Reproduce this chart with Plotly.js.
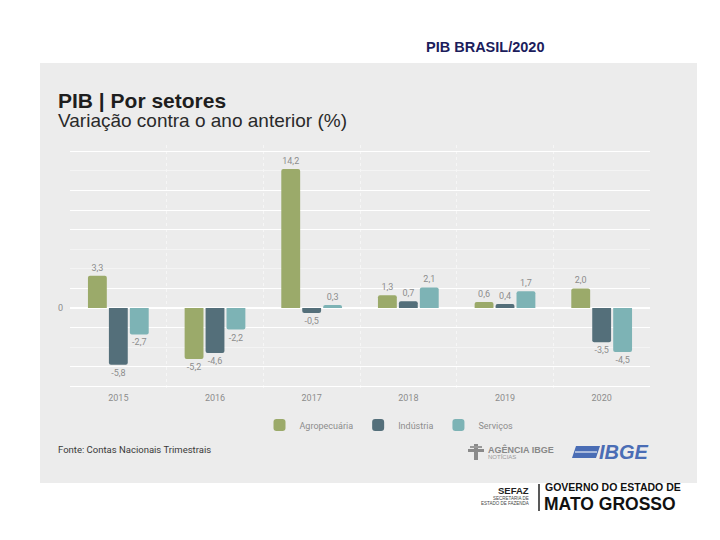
<!DOCTYPE html>
<html>
<head>
<meta charset="utf-8">
<script src="https://cdn.plot.ly/plotly-3.0.1.min.js"></script>
<style>html,body{margin:0;padding:0;background:#fff;}#chart{width:720px;height:540px;}</style>
</head>
<body>
<div id="chart"></div>
<script>
// ---- data ----
var years = ["2015", "2016", "2017", "2018", "2019", "2020"];
var agropecuaria = [3.3, -5.2, 14.2, 1.3, 0.6, 2.0];
var industria = [-5.8, -4.6, -0.5, 0.7, 0.4, -3.5];
var servicos = [-2.7, -2.2, 0.3, 2.1, 1.7, -4.5];
var seriesNames = ["Agropecuária", "Indústria", "Serviços"];
var gridVals = [-8, -6, -2, 0, 2, 8, 10, 12, 16];
var gridText = ["", "", "", "0", "", "", "", "", ""];
var faintGridVals = [-4, 4, 6, 14];

// ---- layout helpers (pixel -> paper) ----
var L = 70, R = 650, T = 145, B = 391;
function px(x) { return (x - L) / (R - L); }
function py(y) { return (B - y) / (B - T); }

var colors = ["#9baa6a", "#546f7a", "#7db3b5"];
var gray = "#8c8c8c";
var fontFam = "Roboto, 'Liberation Sans', Arial, sans-serif";
var arial = "'Liberation Sans', Arial, sans-serif";

function mk(vals, i) {
  return {
    type: "bar",
    name: seriesNames[i],
    x: years,
    y: vals,
    marker: { color: colors[i] },
    texttemplate: "%{y:.1f}",
    textposition: "outside",
    constraintext: "none",
    cliponaxis: false,
    outsidetextfont: { color: gray, size: 9, family: fontFam },
    hoverinfo: "skip"
  };
}
var data = [mk(agropecuaria, 0), mk(industria, 1), mk(servicos, 2)];

function ann(text, x, y, size, color, opts) {
  var a = {
    text: text, xref: "paper", yref: "paper", x: px(x), y: py(y),
    xanchor: "left", yanchor: "middle", showarrow: false,
    font: { size: size, color: color, family: fontFam }
  };
  if (opts) { for (var k in opts) { if (k === "font") { for (var f in opts.font) a.font[f] = opts.font[f]; } else a[k] = opts[k]; } }
  return a;
}

var shapes = [
  { type: "rect", xref: "paper", yref: "paper", x0: px(40), x1: px(697), y0: py(483), y1: py(63),
    fillcolor: "#ececec", line: { width: 0 }, layer: "below" },
  // IBGE logo parallelogram
  { type: "path", xref: "paper", yref: "paper",
    path: "M " + px(576) + "," + py(446) + " L " + px(600) + "," + py(446) + " L " + px(596) + "," + py(458) + " L " + px(572) + "," + py(458) + " Z",
    fillcolor: "#4a6db5", line: { width: 0 } },
  { type: "line", xref: "paper", yref: "paper", x0: px(575), x1: px(597), y0: py(452), y1: py(452),
    line: { color: "#c9d3ea", width: 1.5 } },
  // Agencia IBGE icon
  { type: "rect", xref: "paper", yref: "paper", x0: px(468), x1: px(484), y0: py(452), y1: py(449),
    fillcolor: "#8a8a8a", line: { width: 0 } },
  { type: "rect", xref: "paper", yref: "paper", x0: px(474), x1: px(478), y0: py(460), y1: py(444),
    fillcolor: "#8a8a8a", line: { width: 0 } },
  { type: "rect", xref: "paper", yref: "paper", x0: px(470), x1: px(482), y0: py(448), y1: py(446),
    fillcolor: "#9a9a9a", line: { width: 0 } },
  // Mato Grosso divider
  { type: "line", xref: "paper", yref: "paper", x0: px(539), x1: px(539), y0: py(511), y1: py(484),
    line: { color: "#222", width: 1.5 } }
];

var annotations = [
  ann("<b>PIB BRASIL/2020</b>", 424, 47, 14.5, "#1c1d5c", { font: { family: arial } }),
  ann("<b>PIB | Por setores</b>", 56, 101, 21, "#1e1e1e", { font: { family: arial } }),
  ann("Variação contra o ano anterior (%)", 56, 120, 19, "#2a2a2a", { font: { family: arial } }),
  ann("Fonte: Contas Nacionais Trimestrais", 56, 449, 9.5, "#3a3a3a"),
  ann("<b>AGÊNCIA IBGE</b>", 486, 449, 9, "#888", { font: { family: arial } }),
  ann("NOTÍCIAS", 486, 457, 6, "#999", { font: { family: arial } }),
  ann("<b><i>IBGE</i></b>", 597, 452, 20, "#4a6db5", { font: { family: arial } }),
  ann("<b>SEFAZ</b>", 531, 490, 9.5, "#222", { xanchor: "right", font: { family: arial } }),
  ann("SECRETARIA DE", 531, 498, 4.5, "#444", { xanchor: "right", font: { family: arial } }),
  ann("ESTADO DE FAZENDA", 531, 503, 4.5, "#444", { xanchor: "right", font: { family: arial } }),
  ann("<b>GOVERNO DO ESTADO DE</b>", 543, 487, 10.5, "#111", { font: { family: arial } }),
  ann("<b>MATO GROSSO</b>", 542, 504, 17.5, "#111", { font: { family: arial } })
];

var layout = {
  width: 720, height: 540,
  margin: { l: L, r: 720 - R, t: T, b: 540 - B, pad: 0 },
  paper_bgcolor: "#ffffff",
  plot_bgcolor: "rgba(0,0,0,0)",
  separators: ",.",
  barmode: "group",
  bargap: 0.35,
  bargroupgap: 0.1,
  barcornerradius: 2,
  showlegend: true,
  legend: {
    orientation: "h", x: px(389), xanchor: "center", y: py(425), yanchor: "middle",
    font: { size: 9, color: gray, family: fontFam },
    bgcolor: "rgba(0,0,0,0)", itemclick: false, itemdoubleclick: false
  },
  xaxis: {
    type: "category",
    tickson: "boundaries",
    showgrid: true, gridcolor: "#f6f6f6", gridwidth: 1, griddash: "dot",
    ticks: "", showline: false, zeroline: false,
    tickfont: { size: 9, color: gray, family: fontFam },
    fixedrange: true
  },
  yaxis: {
    range: [-8.48, 16.65],
    tickmode: "array", tickvals: gridVals, ticktext: gridText,
    showgrid: true, gridcolor: "#ffffff", gridwidth: 1,
    minor: { tickmode: "array", tickvals: faintGridVals, showgrid: true, gridcolor: "#f4f4f4", gridwidth: 1, ticks: "" },
    zeroline: true, zerolinecolor: "#ffffff", zerolinewidth: 2,
    ticks: "", showline: false,
    tickfont: { size: 9, color: gray, family: fontFam },
    ticklabelstandoff: 6,
    fixedrange: true
  },
  shapes: shapes,
  annotations: annotations,
  hovermode: false
};

Plotly.newPlot("chart", data, layout, { displayModeBar: false, staticPlot: true });
</script>
</body>
</html>
